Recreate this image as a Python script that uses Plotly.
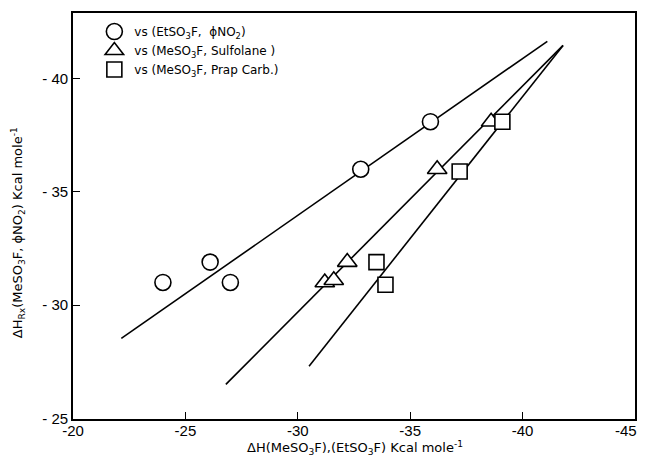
import plotly.graph_objects as go

# Data
circ_x = [-24.0, -26.1, -27.0, -32.8, -35.9]
circ_y = [-31.0, -31.9, -31.0, -36.0, -38.1]
tri_x = [-31.2, -31.6, -32.2, -36.2, -38.6]
tri_y = [-31.0, -31.1, -31.9, -36.0, -38.1]
sq_x = [-33.5, -33.9, -37.2, -39.1]
sq_y = [-31.9, -30.9, -35.9, -38.1]

circ_fit_x = [-22.15, -41.1]
circ_fit_y = [-28.53, -41.65]
tri_fit_x = [-26.8, -41.8]
tri_fit_y = [-26.5, -41.47]
sq_fit_x = [-30.5, -41.8]
sq_fit_y = [-27.3, -41.47]

x_ticks = [-20, -25, -30, -35, -40, -45]
x_ticktext = ["-20", "-25", "-30", "-35", "-40", ""]
x_last_label = "-45"
y_ticks = [-25, -30, -35, -40]
y_ticktext = ["- 25", "- 30", "- 35", "- 40"]

names = [
    "vs (EtSO<sub>3</sub>F,  ϕNO<sub>2</sub>)",
    "vs (MeSO<sub>3</sub>F, Sulfolane )",
    "vs (MeSO<sub>3</sub>F, Prap Carb.)",
]
x_title = "ΔH(MeSO<sub>3</sub>F),(EtSO<sub>3</sub>F) Kcal mole<sup>-1</sup>"
y_title = "ΔH<sub>Rx</sub>(MeSO<sub>3</sub>F, ϕNO<sub>2</sub>) Kcal mole<sup>-1</sup>"

FONT = "DejaVu Sans"
TICKFONT = "Liberation Sans"
fig = go.Figure()
for fx, fy in [(circ_fit_x, circ_fit_y), (tri_fit_x, tri_fit_y), (sq_fit_x, sq_fit_y)]:
    fig.add_trace(go.Scatter(x=fx, y=fy, mode="lines", line=dict(color="black", width=1.6),
                             showlegend=False, hoverinfo="skip"))

for xs, ys, sym, sz, nm in [(circ_x, circ_y, "circle", 16, names[0]),
                            (tri_x, tri_y, "triangle-up", 17, names[1]),
                            (sq_x, sq_y, "square", 15, names[2])]:
    fig.add_trace(go.Scatter(x=xs, y=ys, mode="markers", name=nm,
                             marker=dict(symbol=sym, size=sz, color="white",
                                         line=dict(color="black", width=1.6))))

axis_common = dict(showgrid=False, zeroline=False, showline=True, linecolor="black",
                   linewidth=1.6, mirror=True, ticks="inside", ticklen=7,
                   tickcolor="black", tickwidth=1.2,
                   tickfont=dict(family=TICKFONT, size=15, color="black"))

# page has an 8px body margin, so the figure is sized to fill the window from (8, 8)
fig.update_layout(
    width=640, height=449,
    margin=dict(l=65, r=13, t=5, b=38, autoexpand=False),
    paper_bgcolor="white", plot_bgcolor="white",
    font=dict(family=FONT, color="black"),
    xaxis=dict(range=[-20, -45], tickvals=x_ticks, ticktext=x_ticktext,
               ticklabelstandoff=-3, **axis_common),
    yaxis=dict(range=[-24.97, -42.9], tickvals=y_ticks, ticktext=y_ticktext, **axis_common),
    legend=dict(x=0.038, y=0.99, xanchor="left", yanchor="top", itemwidth=30,
                bgcolor="rgba(0,0,0,0)", font=dict(family=FONT, size=12),
                tracegroupgap=4),
    annotations=[
        dict(text=x_title, xref="paper", yref="paper", x=0.502, y=-0.072,
             xanchor="center", yanchor="middle", showarrow=False,
             font=dict(family=FONT, size=13)),
        dict(text=y_title, xref="paper", yref="paper", x=-0.098, y=0.46,
             xanchor="center", yanchor="middle", showarrow=False, textangle=-90,
             font=dict(family=FONT, size=13)),
        dict(text=x_last_label, x=x_ticks[-1], xref="x", yref="paper", y=0,
             xanchor="right", yanchor="top", xshift=4, yshift=-1, showarrow=False,
             font=dict(family=TICKFONT, size=15)),
    ],
)

fig.write_html("out.html")
